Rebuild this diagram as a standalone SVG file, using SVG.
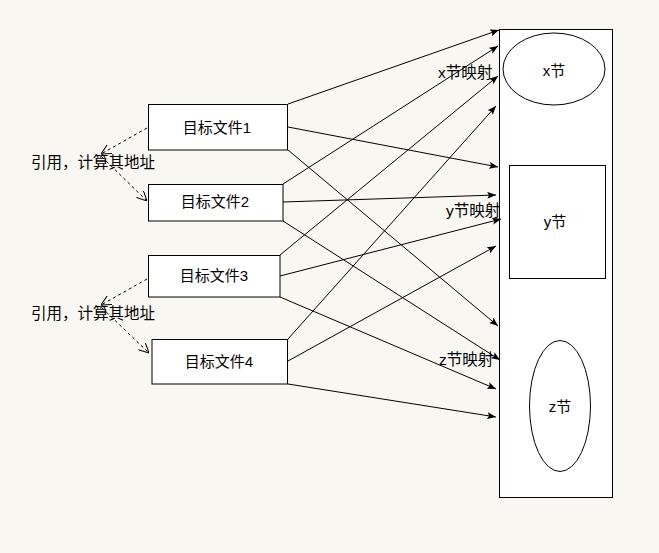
<svg xmlns="http://www.w3.org/2000/svg" width="659" height="553" viewBox="0 0 659 553">
<style>
.bg{fill:#f9f7f1}
.box{fill:#fff;stroke:#000;stroke-width:1}
.t{font-family:"Liberation Sans","Noto Sans CJK SC",sans-serif;font-size:15px;fill:#000;dominant-baseline:central}
.c{stroke:#000;stroke-width:1;fill:none;marker-end:url(#ah)}
.d{stroke:#000;stroke-width:1;fill:none;stroke-dasharray:3,3;marker-end:url(#oh)}
</style>
<defs>
<marker id="ah" viewBox="0 0 10 8" refX="10" refY="4" markerWidth="9" markerHeight="7" orient="auto" markerUnits="userSpaceOnUse">
<path d="M0,0 L10,4 L0,8 L2,4 Z" fill="#000"/>
</marker>
<marker id="oh" viewBox="0 0 10 10" refX="10" refY="5" markerWidth="10" markerHeight="10" orient="auto" markerUnits="userSpaceOnUse">
<path d="M0,0 L10,5 L0,10" fill="none" stroke="#000" stroke-width="1"/>
</marker>
</defs>
<rect class="bg" x="0" y="0" width="659" height="553"/>
<g id="section-container">
<rect class="box" x="499.5" y="29.5" width="113" height="468"/>
</g>
<g id="x-section">
<ellipse class="box" cx="554" cy="69" rx="51" ry="36"/>
<text class="t" x="554" y="70" text-anchor="middle">x节</text>
</g>
<g id="y-section">
<rect class="box" x="509.5" y="165.5" width="96" height="113"/>
<text class="t" x="555" y="221" text-anchor="middle">y节</text>
</g>
<g id="z-section">
<ellipse class="box" cx="560" cy="406" rx="30.5" ry="65.5"/>
<text class="t" x="560" y="406" text-anchor="middle">z节</text>
</g>
<g id="connectors">
<line class="c" x1="288" y1="104" x2="499" y2="30"/>
<line class="c" x1="288" y1="127" x2="498" y2="167"/>
<line class="c" x1="288" y1="150" x2="498" y2="326"/>
<line class="c" x1="283" y1="184" x2="498" y2="46"/>
<line class="c" x1="283" y1="202" x2="496" y2="195"/>
<line class="c" x1="283" y1="221" x2="500" y2="360"/>
<line class="c" x1="280" y1="255" x2="498" y2="76"/>
<line class="c" x1="280" y1="276" x2="501" y2="219"/>
<line class="c" x1="280" y1="297" x2="496" y2="389"/>
<line class="c" x1="288" y1="339" x2="496" y2="106"/>
<line class="c" x1="288" y1="361" x2="496" y2="246"/>
<line class="c" x1="288" y1="384" x2="496" y2="417"/>
<line class="d" x1="147" y1="128" x2="101" y2="154"/>
<line class="d" x1="102" y1="157" x2="147" y2="201"/>
<line class="d" x1="147" y1="279" x2="101" y2="305"/>
<line class="d" x1="102" y1="308" x2="149" y2="353"/>
</g>
<g id="file1">
<rect class="box" x="148.5" y="104.5" width="139" height="45.5"/>
<text class="t" x="217" y="127" text-anchor="middle">目标文件1</text>
</g>
<g id="file2">
<rect class="box" x="148.5" y="184.5" width="134.5" height="36.5"/>
<text class="t" x="215" y="201" text-anchor="middle">目标文件2</text>
</g>
<g id="file3">
<rect class="box" x="148.5" y="255.5" width="131.5" height="41.5"/>
<text class="t" x="214" y="275" text-anchor="middle">目标文件3</text>
</g>
<g id="file4">
<rect class="box" x="152" y="339.5" width="135.5" height="44.5"/>
<text class="t" x="219" y="361" text-anchor="middle">目标文件4</text>
</g>
<g id="labels">
<text class="t" x="31" y="162" style="font-size:15.5px">引用，计算其地址</text>
<text class="t" x="31" y="313" style="font-size:15.5px">引用，计算其地址</text>
<text class="t" x="438" y="72" style="font-size:15.5px">x节映射</text>
<text class="t" x="446" y="210" style="font-size:15.5px">y节映射</text>
<text class="t" x="439" y="359" style="font-size:15.5px">z节映射</text>
</g>
</svg>
